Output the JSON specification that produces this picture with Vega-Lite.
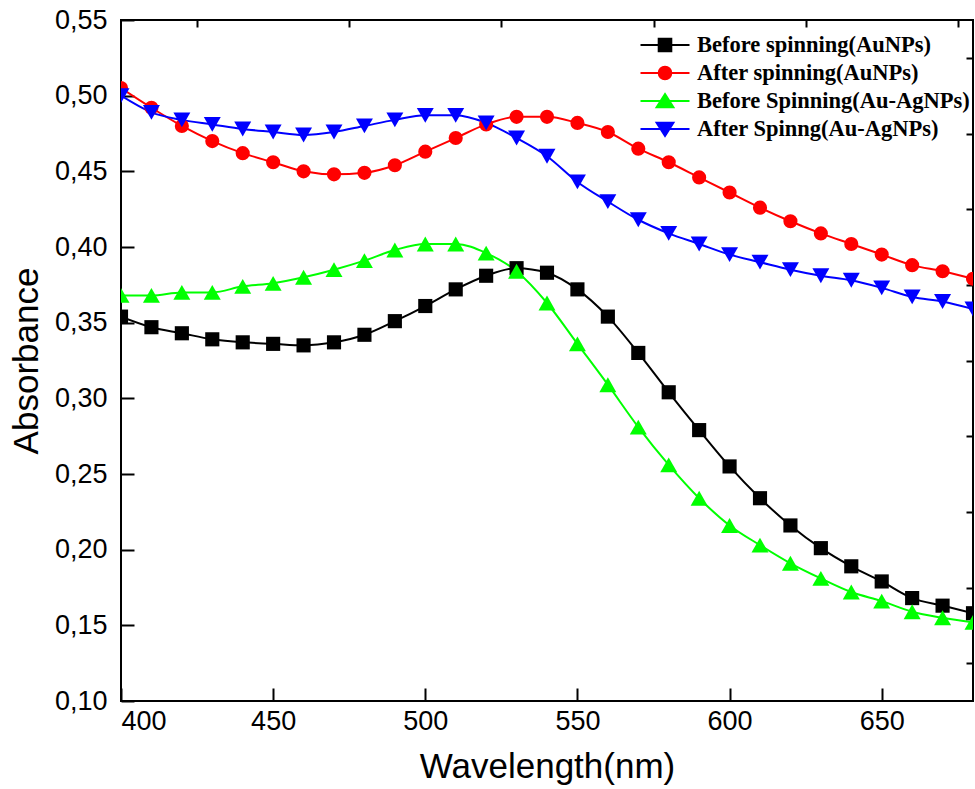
{
  "$schema": "https://vega.github.io/schema/vega-lite/v6.json",
  "width": 852,
  "height": 681,
  "autosize": "none",
  "padding": {"left": 121, "top": 20, "right": 2, "bottom": 88},
  "background": "white",
  "config": {
    "view": {"stroke": "black", "strokeWidth": 2},
    "axis": {"grid": false, "domain": false, "tickColor": "black", "tickWidth": 2, "labelColor": "black", "titleColor": "black", "labelFont": "Liberation Sans", "titleFont": "Liberation Sans", "labelFontSize": 27, "titleFontSize": 35, "titleFontWeight": "normal"}
  },
  "datasets": {
    "spectra": [
      {"wl": 400, "abs": 0.354, "series": "Before spinning(AuNPs)"},
      {"wl": 410, "abs": 0.347, "series": "Before spinning(AuNPs)"},
      {"wl": 420, "abs": 0.343, "series": "Before spinning(AuNPs)"},
      {"wl": 430, "abs": 0.339, "series": "Before spinning(AuNPs)"},
      {"wl": 440, "abs": 0.337, "series": "Before spinning(AuNPs)"},
      {"wl": 450, "abs": 0.336, "series": "Before spinning(AuNPs)"},
      {"wl": 460, "abs": 0.335, "series": "Before spinning(AuNPs)"},
      {"wl": 470, "abs": 0.337, "series": "Before spinning(AuNPs)"},
      {"wl": 480, "abs": 0.342, "series": "Before spinning(AuNPs)"},
      {"wl": 490, "abs": 0.351, "series": "Before spinning(AuNPs)"},
      {"wl": 500, "abs": 0.361, "series": "Before spinning(AuNPs)"},
      {"wl": 510, "abs": 0.372, "series": "Before spinning(AuNPs)"},
      {"wl": 520, "abs": 0.381, "series": "Before spinning(AuNPs)"},
      {"wl": 530, "abs": 0.386, "series": "Before spinning(AuNPs)"},
      {"wl": 540, "abs": 0.383, "series": "Before spinning(AuNPs)"},
      {"wl": 550, "abs": 0.372, "series": "Before spinning(AuNPs)"},
      {"wl": 560, "abs": 0.354, "series": "Before spinning(AuNPs)"},
      {"wl": 570, "abs": 0.330, "series": "Before spinning(AuNPs)"},
      {"wl": 580, "abs": 0.304, "series": "Before spinning(AuNPs)"},
      {"wl": 590, "abs": 0.279, "series": "Before spinning(AuNPs)"},
      {"wl": 600, "abs": 0.255, "series": "Before spinning(AuNPs)"},
      {"wl": 610, "abs": 0.234, "series": "Before spinning(AuNPs)"},
      {"wl": 620, "abs": 0.216, "series": "Before spinning(AuNPs)"},
      {"wl": 630, "abs": 0.201, "series": "Before spinning(AuNPs)"},
      {"wl": 640, "abs": 0.189, "series": "Before spinning(AuNPs)"},
      {"wl": 650, "abs": 0.179, "series": "Before spinning(AuNPs)"},
      {"wl": 660, "abs": 0.168, "series": "Before spinning(AuNPs)"},
      {"wl": 670, "abs": 0.163, "series": "Before spinning(AuNPs)"},
      {"wl": 680, "abs": 0.158, "series": "Before spinning(AuNPs)"},

      {"wl": 400, "abs": 0.505, "series": "After spinning(AuNPs)"},
      {"wl": 410, "abs": 0.492, "series": "After spinning(AuNPs)"},
      {"wl": 420, "abs": 0.480, "series": "After spinning(AuNPs)"},
      {"wl": 430, "abs": 0.470, "series": "After spinning(AuNPs)"},
      {"wl": 440, "abs": 0.462, "series": "After spinning(AuNPs)"},
      {"wl": 450, "abs": 0.456, "series": "After spinning(AuNPs)"},
      {"wl": 460, "abs": 0.450, "series": "After spinning(AuNPs)"},
      {"wl": 470, "abs": 0.448, "series": "After spinning(AuNPs)"},
      {"wl": 480, "abs": 0.449, "series": "After spinning(AuNPs)"},
      {"wl": 490, "abs": 0.454, "series": "After spinning(AuNPs)"},
      {"wl": 500, "abs": 0.463, "series": "After spinning(AuNPs)"},
      {"wl": 510, "abs": 0.472, "series": "After spinning(AuNPs)"},
      {"wl": 520, "abs": 0.481, "series": "After spinning(AuNPs)"},
      {"wl": 530, "abs": 0.486, "series": "After spinning(AuNPs)"},
      {"wl": 540, "abs": 0.486, "series": "After spinning(AuNPs)"},
      {"wl": 550, "abs": 0.482, "series": "After spinning(AuNPs)"},
      {"wl": 560, "abs": 0.476, "series": "After spinning(AuNPs)"},
      {"wl": 570, "abs": 0.465, "series": "After spinning(AuNPs)"},
      {"wl": 580, "abs": 0.456, "series": "After spinning(AuNPs)"},
      {"wl": 590, "abs": 0.446, "series": "After spinning(AuNPs)"},
      {"wl": 600, "abs": 0.436, "series": "After spinning(AuNPs)"},
      {"wl": 610, "abs": 0.426, "series": "After spinning(AuNPs)"},
      {"wl": 620, "abs": 0.417, "series": "After spinning(AuNPs)"},
      {"wl": 630, "abs": 0.409, "series": "After spinning(AuNPs)"},
      {"wl": 640, "abs": 0.402, "series": "After spinning(AuNPs)"},
      {"wl": 650, "abs": 0.395, "series": "After spinning(AuNPs)"},
      {"wl": 660, "abs": 0.388, "series": "After spinning(AuNPs)"},
      {"wl": 670, "abs": 0.384, "series": "After spinning(AuNPs)"},
      {"wl": 680, "abs": 0.379, "series": "After spinning(AuNPs)"},

      {"wl": 400, "abs": 0.368, "series": "Before Spinning(Au-AgNPs)"},
      {"wl": 410, "abs": 0.368, "series": "Before Spinning(Au-AgNPs)"},
      {"wl": 420, "abs": 0.370, "series": "Before Spinning(Au-AgNPs)"},
      {"wl": 430, "abs": 0.370, "series": "Before Spinning(Au-AgNPs)"},
      {"wl": 440, "abs": 0.374, "series": "Before Spinning(Au-AgNPs)"},
      {"wl": 450, "abs": 0.376, "series": "Before Spinning(Au-AgNPs)"},
      {"wl": 460, "abs": 0.380, "series": "Before Spinning(Au-AgNPs)"},
      {"wl": 470, "abs": 0.385, "series": "Before Spinning(Au-AgNPs)"},
      {"wl": 480, "abs": 0.391, "series": "Before Spinning(Au-AgNPs)"},
      {"wl": 490, "abs": 0.398, "series": "Before Spinning(Au-AgNPs)"},
      {"wl": 500, "abs": 0.402, "series": "Before Spinning(Au-AgNPs)"},
      {"wl": 510, "abs": 0.402, "series": "Before Spinning(Au-AgNPs)"},
      {"wl": 520, "abs": 0.396, "series": "Before Spinning(Au-AgNPs)"},
      {"wl": 530, "abs": 0.384, "series": "Before Spinning(Au-AgNPs)"},
      {"wl": 540, "abs": 0.363, "series": "Before Spinning(Au-AgNPs)"},
      {"wl": 550, "abs": 0.336, "series": "Before Spinning(Au-AgNPs)"},
      {"wl": 560, "abs": 0.309, "series": "Before Spinning(Au-AgNPs)"},
      {"wl": 570, "abs": 0.281, "series": "Before Spinning(Au-AgNPs)"},
      {"wl": 580, "abs": 0.256, "series": "Before Spinning(Au-AgNPs)"},
      {"wl": 590, "abs": 0.234, "series": "Before Spinning(Au-AgNPs)"},
      {"wl": 600, "abs": 0.216, "series": "Before Spinning(Au-AgNPs)"},
      {"wl": 610, "abs": 0.203, "series": "Before Spinning(Au-AgNPs)"},
      {"wl": 620, "abs": 0.191, "series": "Before Spinning(Au-AgNPs)"},
      {"wl": 630, "abs": 0.181, "series": "Before Spinning(Au-AgNPs)"},
      {"wl": 640, "abs": 0.172, "series": "Before Spinning(Au-AgNPs)"},
      {"wl": 650, "abs": 0.166, "series": "Before Spinning(Au-AgNPs)"},
      {"wl": 660, "abs": 0.159, "series": "Before Spinning(Au-AgNPs)"},
      {"wl": 670, "abs": 0.155, "series": "Before Spinning(Au-AgNPs)"},
      {"wl": 680, "abs": 0.152, "series": "Before Spinning(Au-AgNPs)"},

      {"wl": 400, "abs": 0.500, "series": "After Spinng(Au-AgNPs)"},
      {"wl": 410, "abs": 0.489, "series": "After Spinng(Au-AgNPs)"},
      {"wl": 420, "abs": 0.484, "series": "After Spinng(Au-AgNPs)"},
      {"wl": 430, "abs": 0.481, "series": "After Spinng(Au-AgNPs)"},
      {"wl": 440, "abs": 0.478, "series": "After Spinng(Au-AgNPs)"},
      {"wl": 450, "abs": 0.476, "series": "After Spinng(Au-AgNPs)"},
      {"wl": 460, "abs": 0.474, "series": "After Spinng(Au-AgNPs)"},
      {"wl": 470, "abs": 0.476, "series": "After Spinng(Au-AgNPs)"},
      {"wl": 480, "abs": 0.480, "series": "After Spinng(Au-AgNPs)"},
      {"wl": 490, "abs": 0.484, "series": "After Spinng(Au-AgNPs)"},
      {"wl": 500, "abs": 0.487, "series": "After Spinng(Au-AgNPs)"},
      {"wl": 510, "abs": 0.487, "series": "After Spinng(Au-AgNPs)"},
      {"wl": 520, "abs": 0.482, "series": "After Spinng(Au-AgNPs)"},
      {"wl": 530, "abs": 0.472, "series": "After Spinng(Au-AgNPs)"},
      {"wl": 540, "abs": 0.460, "series": "After Spinng(Au-AgNPs)"},
      {"wl": 550, "abs": 0.443, "series": "After Spinng(Au-AgNPs)"},
      {"wl": 560, "abs": 0.430, "series": "After Spinng(Au-AgNPs)"},
      {"wl": 570, "abs": 0.418, "series": "After Spinng(Au-AgNPs)"},
      {"wl": 580, "abs": 0.409, "series": "After Spinng(Au-AgNPs)"},
      {"wl": 590, "abs": 0.402, "series": "After Spinng(Au-AgNPs)"},
      {"wl": 600, "abs": 0.395, "series": "After Spinng(Au-AgNPs)"},
      {"wl": 610, "abs": 0.390, "series": "After Spinng(Au-AgNPs)"},
      {"wl": 620, "abs": 0.385, "series": "After Spinng(Au-AgNPs)"},
      {"wl": 630, "abs": 0.381, "series": "After Spinng(Au-AgNPs)"},
      {"wl": 640, "abs": 0.378, "series": "After Spinng(Au-AgNPs)"},
      {"wl": 650, "abs": 0.373, "series": "After Spinng(Au-AgNPs)"},
      {"wl": 660, "abs": 0.367, "series": "After Spinng(Au-AgNPs)"},
      {"wl": 670, "abs": 0.364, "series": "After Spinng(Au-AgNPs)"},
      {"wl": 680, "abs": 0.359, "series": "After Spinng(Au-AgNPs)"}
    ]
  },
  "data": {"name": "spectra"},
  "resolve": {"axis": {"x": "independent", "y": "independent"}, "scale": {"color": "independent", "shape": "independent", "stroke": "independent"}},
  "layer": [
    {
      "mark": {"type": "line", "interpolate": "monotone", "strokeWidth": 2, "clip": true},
      "encoding": {
        "x": {"field": "wl", "type": "quantitative", "scale": {"domain": [400, 680], "nice": false, "zero": false},
              "axis": {"title": "Wavelength(nm)", "values": [400, 450, 500, 550, 600, 650], "tickSize": -13, "labelPadding": 20, "titlePadding": 15}},
        "y": {"field": "abs", "type": "quantitative", "scale": {"domain": [0.1, 0.55], "nice": false, "zero": false},
              "axis": {"title": "Absorbance", "values": [0.1, 0.15, 0.2, 0.25, 0.3, 0.35, 0.4, 0.45, 0.5, 0.55], "tickSize": -13, "labelPadding": 27, "titlePadding": 10,
                       "labelExpr": "replace(format(datum.value, '.2f'), '.', ',')"}},
        "stroke": {"field": "series", "type": "nominal",
                   "scale": {"domain": ["After Spinng(Au-AgNPs)", "Before Spinning(Au-AgNPs)", "After spinning(AuNPs)", "Before spinning(AuNPs)"], "range": ["#0000ff", "#00ff00", "#ff0000", "#000000"]},
                   "legend": null},
        "order": {"field": "wl", "type": "quantitative"}
      }
    },
    {
      "mark": {"type": "point", "filled": true, "size": 200, "opacity": 1, "clip": true},
      "encoding": {
        "x": {"field": "wl", "type": "quantitative",
              "axis": {"title": null, "labels": false, "domain": false, "values": [425, 475, 525, 575, 625, 675], "tickSize": -7}},
        "y": {"field": "abs", "type": "quantitative",
              "axis": {"title": null, "labels": false, "domain": false, "values": [0.125, 0.175, 0.225, 0.275, 0.325, 0.375, 0.425, 0.475, 0.525], "tickSize": -7}},
        "color": {"field": "series", "type": "nominal",
                  "scale": {"domain": ["After spinning(AuNPs)", "Before spinning(AuNPs)", "After Spinng(Au-AgNPs)", "Before Spinning(Au-AgNPs)"], "range": ["#ff0000", "#000000", "#0000ff", "#00ff00"]},
                  "legend": null},
        "shape": {"field": "series", "type": "nominal",
                  "scale": {"domain": ["After spinning(AuNPs)", "Before spinning(AuNPs)", "After Spinng(Au-AgNPs)", "Before Spinning(Au-AgNPs)"],
                            "range": ["circle", "square", "M0,1.05L1.2,-1.05L-1.2,-1.05Z", "M0,-1.05L1.2,1.05L-1.2,1.05Z"]},
                  "legend": null}
      }
    },
    {
      "transform": [{"filter": "datum.wl < 0"}],
      "mark": {"type": "point", "filled": true, "opacity": 1, "strokeWidth": 2},
      "encoding": {
        "x": {"field": "wl", "type": "quantitative", "axis": null},
        "y": {"field": "abs", "type": "quantitative", "axis": null},
        "color": {"field": "series", "type": "nominal",
                  "scale": {"domain": ["Before spinning(AuNPs)", "After spinning(AuNPs)", "Before Spinning(Au-AgNPs)", "After Spinng(Au-AgNPs)"], "range": ["#000000", "#ff0000", "#00ff00", "#0000ff"]},
                  "legend": {"title": null, "orient": "none", "legendX": 529, "legendY": 10, "padding": 0, "rowPadding": 1,
                             "symbolSize": 784, "symbolStrokeWidth": 2, "symbolOpacity": 1, "labelOffset": 17,
                             "labelFont": "Liberation Serif", "labelFontWeight": "bold", "labelFontSize": 22.5, "labelColor": "black", "labelLimit": 400}},
        "stroke": {"field": "series", "type": "nominal",
                   "scale": {"domain": ["Before spinning(AuNPs)", "After spinning(AuNPs)", "Before Spinning(Au-AgNPs)", "After Spinng(Au-AgNPs)"], "range": ["#000000", "#ff0000", "#00ff00", "#0000ff"]}},
        "shape": {"field": "series", "type": "nominal",
                  "scale": {"domain": ["Before spinning(AuNPs)", "After spinning(AuNPs)", "Before Spinning(Au-AgNPs)", "After Spinng(Au-AgNPs)"],
                            "range": ["M-1.75,0H1.75M-0.45,-0.45H0.45V0.45H-0.45Z",
                                      "M-1.75,0H1.75M0.45,0A0.45,0.45 0 1,1 -0.45,0A0.45,0.45 0 1,1 0.45,0Z",
                                      "M-1.75,0H1.75M0,-0.5L0.6,0.45L-0.6,0.45Z",
                                      "M-1.75,0H1.75M0,0.5L0.6,-0.45L-0.6,-0.45Z"]}}
      }
    }
  ]
}
